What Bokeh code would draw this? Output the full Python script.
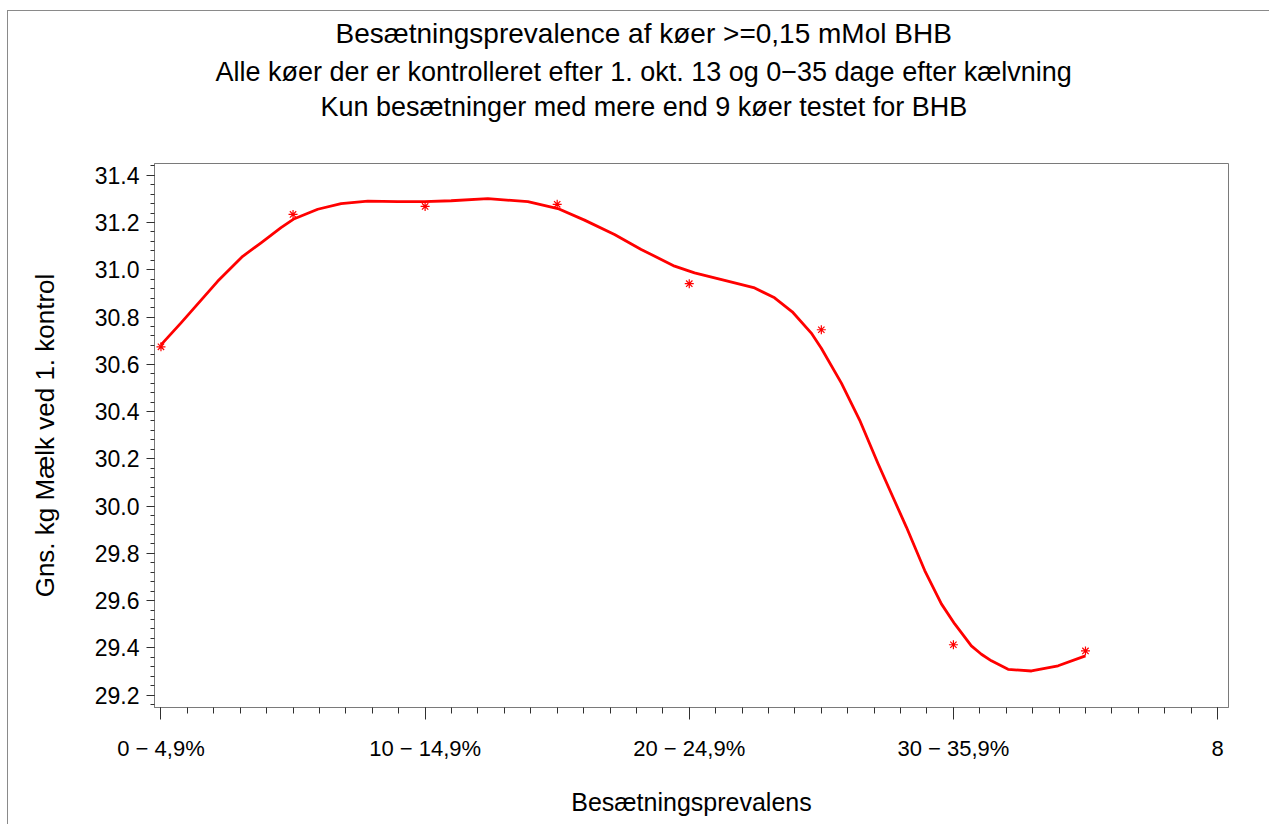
from bokeh.plotting import figure
from bokeh.models import Range1d, FixedTicker, PrintfTickFormatter, Title, ColumnDataSource
from bokeh.embed import file_html
from bokeh.resources import INLINE

# ---------------- data ----------------
title_lines = [
    "Besætningsprevalence af køer >=0,15 mMol BHB",
    "Alle køer der er kontrolleret efter 1. okt. 13 og 0−35 dage efter kælvning",
    "Kun besætninger med mere end 9 køer testet for BHB",
]
x_axis_title = "Besætningsprevalens"
y_axis_title = "Gns. kg Mælk ved 1. kontrol"

x_ticks = [0, 2, 4, 6, 8]
x_tick_labels = ["0 − 4,9%", "10 − 14,9%", "20 − 24,9%", "30 − 35,9%", "8"]
y_ticks = [29.2, 29.4, 29.6, 29.8, 30.0, 30.2, 30.4, 30.6, 30.8, 31.0, 31.2, 31.4]

# observed group means (asterisks)
group_index = [0, 1, 2, 3, 4, 5, 6, 7]
group_mean_milk = [30.674, 31.234, 31.268, 31.277, 30.941, 30.746, 29.413, 29.387]

# smoothed curve
smooth_x = [0.0, 0.152, 0.429, 0.619, 0.758, 0.909, 1.01, 1.187, 1.364, 1.566,
            1.793, 1.995, 2.197, 2.475, 2.778, 3.005, 3.207, 3.434, 3.636,
            3.889, 4.04, 4.268, 4.495, 4.646, 4.78, 4.924, 5.0, 5.152, 5.29,
            5.429, 5.53, 5.644, 5.783, 5.909, 6.01, 6.136, 6.212, 6.288, 6.414,
            6.591, 6.793, 7.0]
smooth_y = [30.682, 30.775, 30.951, 31.057, 31.114, 31.178, 31.216, 31.256,
            31.280, 31.290, 31.288, 31.288, 31.292, 31.301, 31.288, 31.259,
            31.210, 31.149, 31.086, 31.015, 30.987, 30.955, 30.923, 30.881,
            30.822, 30.732, 30.668, 30.520, 30.364, 30.180, 30.053, 29.911,
            29.727, 29.586, 29.501, 29.408, 29.373, 29.345, 29.309, 29.302,
            29.324, 29.366]

# ---------------- figure ----------------
OX, OY = 8, 11          # canvas origin on the page (after margin + border)
W, H = 1262, 814
FONT = "Liberation Sans"
FR_L, FR_T, FR_R, FR_B = 154 - OX, 163 - OY, 1228 - OX, 707 - OY

p = figure(width=W, height=H, output_backend="svg", toolbar_location=None,
           x_range=Range1d(-0.049, 8.083), y_range=Range1d(29.1475, 31.4496),
           min_border_left=FR_L, min_border_right=W - FR_R,
           min_border_top=FR_T, min_border_bottom=H - FR_B)
p.styles = {"margin-left": "7px", "margin-top": "10px",
            "border-top": "1px solid #8a8a8a", "border-left": "1px solid #8a8a8a"}
p.xgrid.visible = False
p.ygrid.visible = False
p.outline_line_color = "#7a7a7a"
p.outline_line_width = 1
p.background_fill_color = "white"
p.border_fill_color = "white"

curve_src = ColumnDataSource(dict(x=smooth_x, y=smooth_y))
p.line("x", "y", source=curve_src, line_color="#ff0000", line_width=2.8,
       line_join="round")
pts_src = ColumnDataSource(dict(x=group_index, y=group_mean_milk))
p.scatter("x", "y", source=pts_src, marker="asterisk", size=9,
          line_color="#ff0000", line_width=1.2)

# x axis
xa = p.xaxis[0]
minor_x = [round(i * 0.2, 1) for i in range(0, 41)]
xa.ticker = FixedTicker(ticks=x_ticks, minor_ticks=minor_x)
xa.major_label_overrides = {t: lab for t, lab in zip(x_ticks, x_tick_labels)}
xa.major_tick_out = 12
xa.major_tick_in = 0
xa.minor_tick_out = 6
xa.minor_tick_in = 0
xa.axis_line_color = "#7a7a7a"
xa.major_tick_line_color = "#303030"
xa.minor_tick_line_color = "#303030"
xa.major_label_text_font = FONT
xa.major_label_text_font_size = "22px"
xa.major_label_text_color = "black"
xa.major_label_standoff = 16
xa.axis_label = x_axis_title
xa.axis_label_text_font = FONT
xa.axis_label_text_font_size = "25px"
xa.axis_label_text_font_style = "normal"
xa.axis_label_text_color = "black"
xa.axis_label_standoff = 24

# y axis
ya = p.yaxis[0]
minor_y = [round(29.16 + i * 0.04, 2) for i in range(0, 59)]
ya.ticker = FixedTicker(ticks=y_ticks, minor_ticks=minor_y)
ya.formatter = PrintfTickFormatter(format="%.1f")
ya.major_tick_out = 8
ya.major_tick_in = 0
ya.minor_tick_out = 4
ya.minor_tick_in = 0
ya.axis_line_color = "#7a7a7a"
ya.major_tick_line_color = "#303030"
ya.minor_tick_line_color = "#303030"
ya.major_label_text_font = FONT
ya.major_label_text_font_size = "23px"
ya.major_label_text_color = "black"
ya.major_label_standoff = 7
ya.axis_label = y_axis_title
ya.axis_label_text_font = FONT
ya.axis_label_text_font_size = "26px"
ya.axis_label_text_font_style = "normal"
ya.axis_label_text_color = "black"
ya.axis_label_standoff = 32

# titles: stacked in the "above" panel (first added = nearest the frame)
p.add_layout(Title(text=" ", text_font_size="10px", standoff=27), "above")
title_sizes = [28, 27, 27]
title_offsets = [181, 61, 166]        # left edge relative to the frame's left side
title_standoffs = [9, 3, 3]
for txt, fs, off, so in reversed(list(zip(title_lines, title_sizes,
                                          title_offsets, title_standoffs))):
    p.add_layout(Title(text=txt, align="left", offset=off, vertical_align="bottom",
                       standoff=so, text_font=FONT, text_font_size=f"{fs}px",
                       text_font_style="normal", text_color="black"), "above")

open("out.html", "w").write(file_html(p, INLINE))
